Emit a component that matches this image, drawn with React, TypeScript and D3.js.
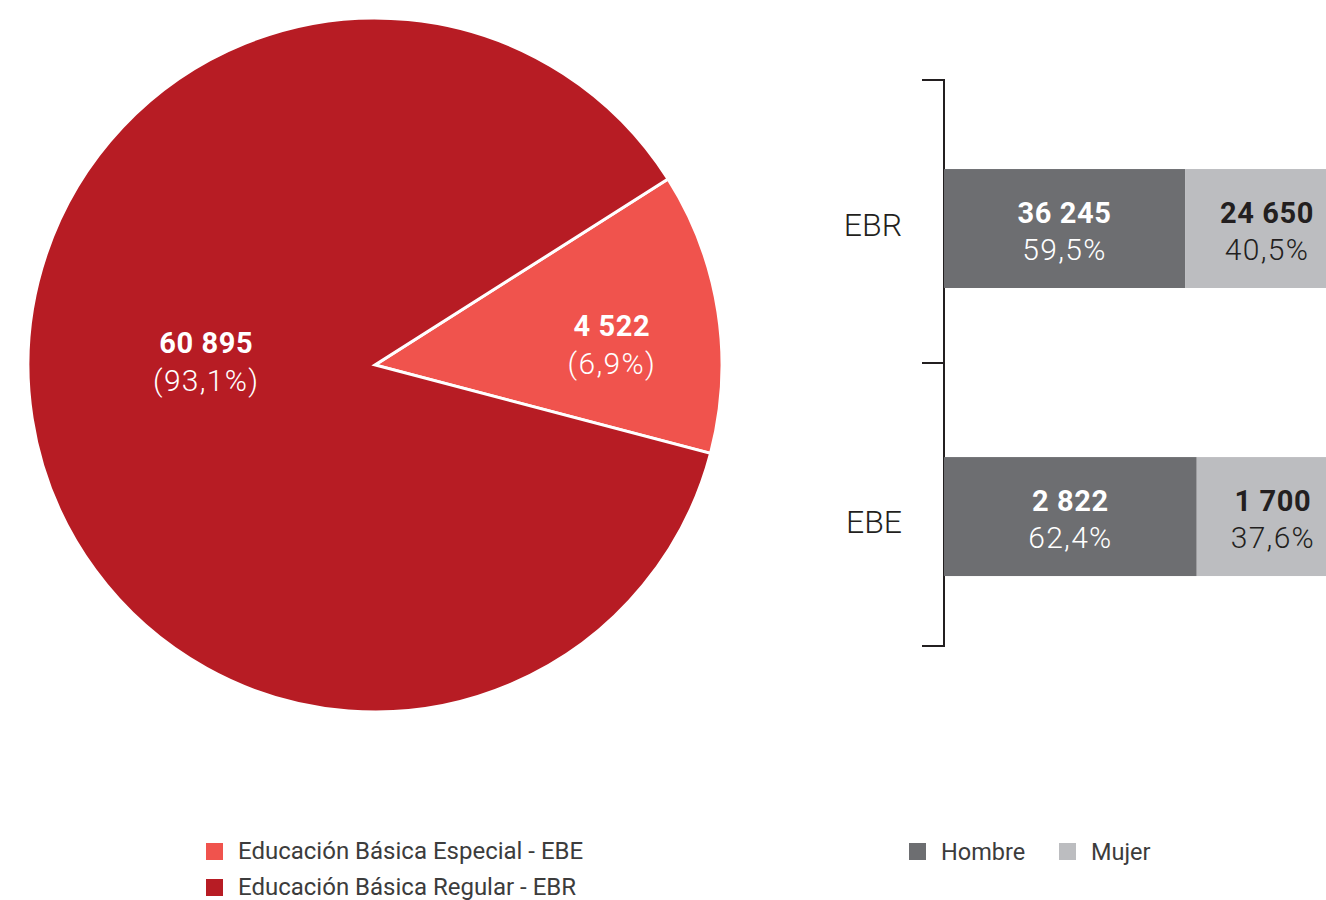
import React from "react";
import * as d3 from "d3";

// Pie data
const pieCategories = ["Educación Básica Especial - EBE", "Educación Básica Regular - EBR"];
const pieValues = [4522, 60895];
const pieValueLabels = ["4 522", "60 895"];
const piePctLabels = ["(6,9%)", "(93,1%)"];
// share of the circle each slice occupies as drawn in the picture (%)
const pieDrawnShares = [13.1, 86.9];
const pieColors = ["#F0534D", "#B71C24"];

// Bar data
const barCategories = ["EBR", "EBE"];
const sexes = ["Hombre", "Mujer"];
const hombreValues = [36245, 2822];
const mujerValues = [24650, 1700];
const hombreLabels = ["36 245", "2 822"];
const mujerLabels = ["24 650", "1 700"];
const hombrePct = ["59,5%", "62,4%"];
const mujerPct = ["40,5%", "37,6%"];
const sexColors = ["#6D6E71", "#BCBDC0"];

const W = 1326;
const H = 900;
const FONT = "Roboto, 'Noto Sans', sans-serif";
const DARK = "#231F20";

export default function App() {
  const cx = 375, cy = 365, R = 347;
  const start = (57.6 * Math.PI) / 180;
  const pie = d3
    .pie<number>()
    .sort(null)
    .value((d) => d)
    .startAngle(start)
    .endAngle(start + 2 * Math.PI);
  const arcs = pie(pieDrawnShares);
  const arc = d3.arc<d3.PieArcDatum<number>>().innerRadius(0).outerRadius(R);
  const labelRadius = [237, 169];
  const labelShift = (6.3 * Math.PI) / 180;

  // bars
  const y = d3
    .scaleBand<string>()
    .domain(barCategories)
    .range([80, 646])
    .paddingInner(0.587)
    .paddingOuter(0.276)
    .align(0.56);
  const yLabel = d3.scalePoint<string>().domain(barCategories).range([236, 533]);
  const x = d3.scaleLinear().domain([0, 1]).range([944, 1349]);
  const totals = hombreValues.map((h, i) => h + mujerValues[i]);

  const boldStyle = { fontSize: 29, fontWeight: 700, letterSpacing: 0.6 } as const;
  const lightStyle = { fontSize: 30, fontWeight: 300, letterSpacing: 1.3 } as const;

  return (
    <svg
      width={W}
      height={H}
      style={{ position: "absolute", left: 0, top: 0, fontFamily: FONT }}
    >
      <rect width={W} height={H} fill="#fff" />
      <g transform={`translate(${cx},${cy})`}>
        {arcs.map((a, i) => (
          <path key={i} d={arc(a) || ""} fill={pieColors[i]} stroke="#fff" strokeWidth={3} strokeLinejoin="miter" />
        ))}
        {arcs.map((a, i) => {
          const mid = (a.startAngle + a.endAngle) / 2 + labelShift;
          const r = labelRadius[i];
          const lx = Math.sin(mid) * r;
          const ly = -Math.cos(mid) * r;
          return (
            <g key={"l" + i} transform={`translate(${lx},${ly})`} fill="#fff" textAnchor="middle">
              <text y={-19} style={boldStyle}>
                {pieValueLabels[i]}
              </text>
              <text y={19} style={lightStyle}>
                {piePctLabels[i]}
              </text>
            </g>
          );
        })}
      </g>

      {/* bracket axis */}
      <g stroke={DARK} strokeWidth={2} fill="none">
        <line x1={944} x2={944} y1={79} y2={647} />
        <line x1={922} x2={945} y1={80} y2={80} />
        <line x1={922} x2={945} y1={363} y2={363} />
        <line x1={922} x2={945} y1={646} y2={646} />
      </g>
      {barCategories.map((c, i) => {
        const y0 = y(c)!;
        const bw = y.bandwidth();
        const hx = x(hombreValues[i] / totals[i]);
        return (
          <g key={c}>
            <text x={902} y={yLabel(c)!} fontSize={32} fill={DARK} textAnchor="end" fontWeight={300}>
              {c}
            </text>
            <rect x={x(0)} y={y0} width={hx - x(0)} height={bw} fill={sexColors[0]} />
            <rect x={hx} y={y0} width={x(1) - hx} height={bw} fill={sexColors[1]} />
            <g textAnchor="middle">
              <text x={(x(0) + hx) / 2} y={y0 + 54} fill="#fff" style={boldStyle}>
                {hombreLabels[i]}
              </text>
              <text x={(x(0) + hx) / 2} y={y0 + 91} fill="#fff" style={lightStyle}>
                {hombrePct[i]}
              </text>
              <text x={(hx + x(1)) / 2} y={y0 + 54} fill={DARK} style={boldStyle}>
                {mujerLabels[i]}
              </text>
              <text x={(hx + x(1)) / 2} y={y0 + 91} fill={DARK} style={lightStyle}>
                {mujerPct[i]}
              </text>
            </g>
          </g>
        );
      })}

      {/* legends */}
      <g fill="#3C3C3C">
        {pieCategories.map((c, i) => (
          <g key={c} transform={`translate(206,${843 + i * 36})`}>
            <rect width={17} height={17} fill={pieColors[i]} />
            <text x={32} y={16} fontSize={24}>{c}</text>
          </g>
        ))}
        {sexes.map((s, i) => (
          <g key={s} transform={`translate(${909 + i * 150},843)`}>
            <rect width={17} height={17} fill={sexColors[i]} />
            <text x={32} y={17} fontSize={23.5}>{s}</text>
          </g>
        ))}
      </g>
    </svg>
  );
}
